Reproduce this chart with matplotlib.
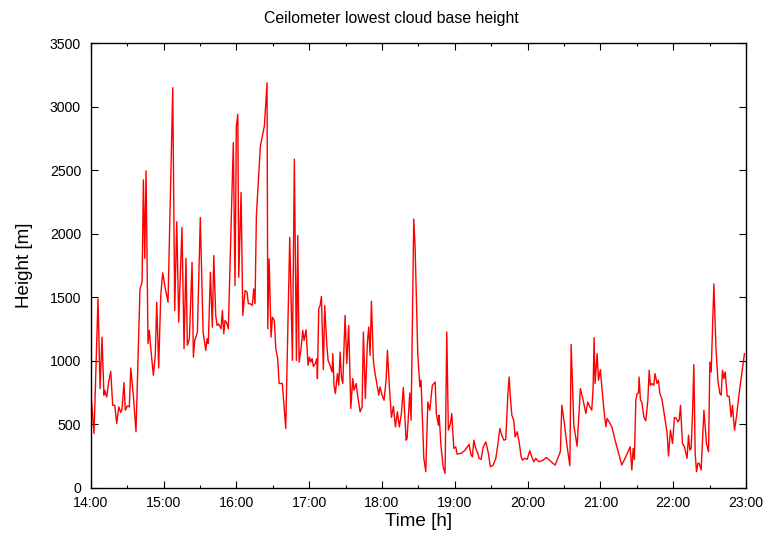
import matplotlib
matplotlib.use("Agg")
import matplotlib.pyplot as plt
from matplotlib.ticker import MultipleLocator, FuncFormatter

plt.rcParams['font.family'] = ['Liberation Sans', 'DejaVu Sans']

# Time of each ceilometer reading, minutes after 14:00
minutes = [
    0.5, 2.7, 6.0, 7.7, 9.3, 10.9, 11.5, 13.2, 14.8, 16.5,
    18.1, 19.8, 21.4, 23.1, 24.7, 25.8, 27.4, 28.5, 30.2, 31.8,
    33.0, 35.1, 37.3, 39.0, 40.6, 42.3, 43.4, 44.5, 45.6, 47.2,
    48.3, 49.5, 51.6, 53.2, 54.4, 56.0, 57.7, 59.3, 61.5, 63.7,
    67.6, 69.2, 70.9, 72.5, 75.2, 76.9, 78.5, 79.6, 81.3, 83.5,
    84.6, 85.7, 87.9, 90.3,
    92.6, 94.8, 95.9, 96.9, 98.6, 100.2, 101.4, 103.0, 104.1, 105.2,
    106.3, 107.4, 108.5, 109.6, 110.7, 112.3, 113.4, 117.5, 118.9, 120.0,
    121.2, 122.0, 123.9, 125.3, 127.2, 128.8, 129.9, 131.5, 133.2, 134.3,
    135.4, 136.5, 139.8, 143.1, 145.3, 145.9, 147.0, 148.6, 149.7, 151.3,
    152.5, 154.1, 155.2, 157.9, 160.7, 164.0, 166.2, 167.8, 169.5, 170.6,
    171.7, 173.3,
    174.7, 175.8, 177.4, 179.1, 180.2, 181.3, 182.4, 183.5, 185.1, 186.3,
    186.8, 187.9, 189.0, 190.1, 191.7, 192.8, 194.5, 195.6, 197.2, 198.9,
    199.5, 200.5, 201.6, 203.3, 204.4, 205.5, 206.6, 207.7, 209.6, 211.0,
    212.6, 214.3, 215.9, 217.0, 218.7, 219.7, 222.0, 223.6, 224.7, 226.3,
    228.0, 229.1, 230.2, 231.3, 232.9, 234.1, 235.7, 237.4, 238.4, 240.1,
    241.7, 243.4, 244.5, 246.1, 247.8, 249.4, 251.1, 252.7, 254.3, 256.0,
    257.6, 259.9, 260.7, 262.9, 264.0, 266.2, 267.3, 269.5, 271.2, 272.2,
    274.5, 276.1, 277.8, 279.4, 281.5, 283.8, 284.8, 286.5, 287.1, 288.7,
    290.4, 292.0, 293.4, 294.7, 296.4, 297.5, 299.2, 300.8, 301.9, 305.2,
    308.5, 311.8, 313.4, 314.5, 315.7, 317.3, 319.0, 320.0, 321.7, 323.3,
    325.6, 327.7, 329.3, 331.6, 333.8, 335.4, 337.1, 338.7, 340.4, 342.0,
    343.7, 344.8, 345.8, 347.0, 348.6, 349.7, 351.4, 353.0,
    354.7, 355.7, 357.4, 359.6, 361.8, 363.5, 365.1, 366.8, 367.8, 369.5,
    372.8, 375.5, 379.4, 382.7, 386.0, 387.0, 388.2, 390.3, 392.6, 394.8,
    395.9, 398.1, 400.8, 403.5, 405.8, 408.0, 409.6, 411.3, 412.9, 414.0,
    414.8, 415.6, 417.3, 418.4, 420.0, 421.4, 422.8, 424.5, 425.5, 427.2,
    429.4, 432.1, 437.6, 440.9, 444.5,
    445.9, 447.0, 448.0, 449.2, 450.3, 451.4, 451.9, 453.0, 454.1, 455.8,
    457.4, 459.1, 460.2, 461.2, 462.4, 464.0, 465.0, 466.7, 467.8, 469.0,
    470.6, 471.7, 473.4, 475.0, 476.1, 477.7, 479.4, 481.0, 482.7, 483.8,
    484.9, 486.0, 487.6, 489.3, 491.4, 492.6, 493.7, 494.8, 495.9, 497.0,
    498.1, 499.2, 500.3, 501.4, 503.0, 505.3, 507.4, 509.1, 510.2, 511.3,
    513.5, 515.2, 516.8, 518.4, 519.5, 520.6, 521.7, 522.8, 524.5, 526.1,
    527.7, 528.8, 530.5, 532.1, 534.3, 536.5, 538.7,
]

# Lowest cloud base height [m]
cloud_base_m = [
    702, 427, 1487, 780, 1185, 728, 767, 714, 832, 916,
    649, 649, 505, 636, 592, 623, 827, 610, 644, 636,
    942, 728, 440, 1016, 1565, 1617, 2423, 1806, 2494, 1134,
    1238, 1094, 885, 1042, 1460, 942, 1513, 1691, 1565, 1460,
    3148, 1395, 2094, 1303, 2049, 1094, 1806, 1120, 1172, 1774,
    1028, 1159, 1225, 2127,
    1225, 1081, 1173, 1134, 1696, 1264, 1827, 1356, 1277, 1290,
    1272, 1251, 1395, 1212, 1316, 1290, 1251, 2716, 1591, 2847,
    2939, 1656, 2324, 1356, 1552, 1539, 1448, 1448, 1434, 1565,
    1448, 2141, 2690, 2847, 3187, 1251, 1801, 1185, 1342, 1316,
    1094, 1016, 820, 820, 466, 1970, 1002, 2586, 1002, 1984,
    989, 1094,
    1238, 1159, 1243, 963, 1028, 989, 1016, 955, 977, 1016,
    859, 1408, 1434, 1505, 929, 1434, 1133, 1002, 963, 911,
    1055, 806, 741, 898, 806, 1068, 871, 820, 1356, 977,
    1277, 623, 859, 767, 820, 741, 597, 636, 1225, 702,
    1146, 1264, 1042, 1468, 1002, 911, 820, 728, 793, 728,
    688, 846, 1081, 793, 553, 641, 479, 597, 479, 584,
    788, 374, 388, 746, 531, 2115, 1892, 1055, 793, 846,
    231, 126, 675, 610, 806, 832, 584, 492, 571, 322,
    165, 113, 1225, 453, 505, 584, 309, 322, 265, 270,
    296, 341, 257, 243, 374, 309, 270, 231, 223, 317,
    361, 270, 165, 178, 231, 335, 466, 414, 374, 380,
    728, 871, 714, 571, 531, 400, 440, 361,
    243, 217, 231, 223, 290, 243, 204, 231, 217, 204,
    217, 238, 204, 178, 257, 283, 649, 505, 322, 173,
    1128, 492, 327, 780, 688, 584, 675, 636, 610, 793,
    1181, 820, 1055, 846, 929, 767, 623, 479, 545, 518,
    479, 374, 178, 243, 322,
    139, 309, 223, 688, 741, 746, 871, 688, 675, 557,
    526, 688, 924, 806, 820, 806, 898, 820, 846, 741,
    702, 636, 531, 427, 249, 453, 348, 553, 545, 518,
    531, 649, 348, 322, 231, 414, 296, 309, 584, 969,
    270, 126, 192, 192, 139, 610, 348, 283, 989, 911,
    1604, 1107, 846, 741, 728, 924, 859, 911, 720, 720,
    557, 649, 453, 557, 741, 898, 1055,
]

start_hour = 14
hour_ticks = list(range(14, 24))
height_ticks = list(range(0, 3501, 500))

hours = [start_hour + m / 60.0 for m in minutes]

fig = plt.figure(figsize=(7.65, 5.37), dpi=100)
ax = fig.add_axes([0.1186, 0.0918, 0.8566, 0.8281])

ax.plot(hours, cloud_base_m, color='#ff0000', lw=1.0)

ax.set_xlim(hour_ticks[0], hour_ticks[-1])
ax.set_ylim(height_ticks[0], height_ticks[-1])
ax.set_xticks(hour_ticks)
ax.xaxis.set_minor_locator(MultipleLocator(0.5))
ax.xaxis.set_major_formatter(FuncFormatter(lambda v, p: f"{int(round(v))}:00"))
ax.set_yticks(height_ticks)

ax.tick_params(which='both', direction='in', top=True, right=True,
               color='black', width=0.8, labelsize=10.2)
ax.tick_params(axis='x', pad=6)
ax.tick_params(axis='y', pad=7)
ax.tick_params(which='major', length=5)
ax.tick_params(which='minor', length=2.5)
for s in ax.spines.values():
    s.set_linewidth(1.0)
    s.set_color('black')

# Title is centred on the canvas rather than on the plot frame
fig.text(0.511, 0.965, "Ceilometer lowest cloud base height",
         fontsize=11.4, ha='center', va='center')
ax.set_xlabel("Time [h]", fontsize=13.6, labelpad=2)
ax.set_ylabel("Height [m]", fontsize=13.6, labelpad=12)

fig.savefig("out.png", dpi=100)
